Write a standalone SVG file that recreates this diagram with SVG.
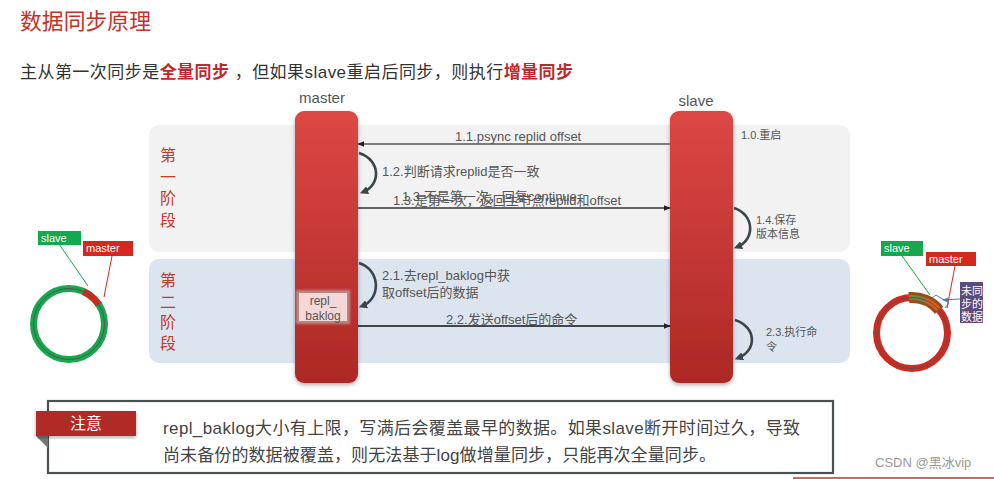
<svg xmlns="http://www.w3.org/2000/svg" width="994" height="479" viewBox="0 0 994 479">
<defs>
<style>
text{font-family:"Liberation Sans","Noto Sans CJK SC",sans-serif;}
.lbl{font-size:13px;fill:#555;}
.sm{font-size:11px;fill:#555;}
.phase{font-size:16px;fill:#c0392b;text-anchor:middle;}
.bar{fill:url(#barGrad);filter:url(#shadow);}
.curve{fill:none;stroke:#3b4649;stroke-width:2.6;marker-end:url(#curveHead);}
.line{stroke-width:1.4;fill:none;}
.tag{font-size:11px;fill:#fff;}
.note{font-size:17px;fill:#444;}
</style>
<linearGradient id="barGrad" x1="0" y1="0" x2="0" y2="1">
<stop offset="0" stop-color="#dc4744"/>
<stop offset="1" stop-color="#ad2826"/>
</linearGradient>
<filter id="shadow" x="-30%" y="-10%" width="160%" height="120%">
<feDropShadow dx="0" dy="2" stdDeviation="2" flood-color="#000" flood-opacity="0.3"/>
</filter>
<filter id="glow" x="-20%" y="-20%" width="140%" height="140%">
<feGaussianBlur stdDeviation="1.2"/>
</filter>
<marker id="curveHead" viewBox="0 0 10 10" refX="6" refY="5" markerWidth="3.2" markerHeight="3.2" orient="auto" markerUnits="strokeWidth">
<path d="M0,0 L10,5 L0,10 z" fill="#3b4649"/>
</marker>
<marker id="head" viewBox="0 0 10 10" refX="9" refY="5" markerWidth="7" markerHeight="7" orient="auto" markerUnits="userSpaceOnUse">
<path d="M0,1 L10,5 L0,9 z" fill="#222"/>
</marker>
<marker id="blueHead" viewBox="0 0 10 10" refX="9" refY="5" markerWidth="6" markerHeight="6" orient="auto" markerUnits="userSpaceOnUse">
<path d="M0,1 L10,5 L0,9 z" fill="#4a7fc1"/>
</marker>
</defs>
<rect x="0" y="0" width="994" height="479" fill="#fff"/>

<g id="title">
<text x="20" y="29" font-size="22" fill="#c9302c" textLength="131" lengthAdjust="spacingAndGlyphs">数据同步原理</text>
</g>
<g id="subtitle">
<text x="20" y="78" font-size="17" fill="#333" textLength="553" lengthAdjust="spacing">主从第一次同步是<tspan fill="#c0282d" font-weight="bold">全量同步</tspan> ，但如果slave重启后同步，则执行<tspan fill="#c0282d" font-weight="bold">增量同步</tspan></text>
</g>

<g id="phase1">
<rect x="149" y="125" width="701" height="127" rx="10" fill="#f2f2f2"/>
<text class="phase" x="168" y="161">第</text>
<text class="phase" x="168" y="183">一</text>
<text class="phase" x="168" y="204">阶</text>
<text class="phase" x="168" y="226">段</text>
</g>
<g id="phase2">
<rect x="149" y="259" width="701" height="104" rx="10" fill="#dce4ef"/>
<text class="phase" x="168" y="286">第</text>
<text class="phase" x="168" y="308">二</text>
<text class="phase" x="168" y="328">阶</text>
<text class="phase" x="168" y="349">段</text>
</g>

<g id="master">
<text x="322" y="103" font-size="15" fill="#555" text-anchor="middle">master</text>
<rect class="bar" x="295" y="111" width="63" height="272" rx="9"/>
</g>
<g id="slave">
<text x="696" y="106" font-size="15" fill="#555" text-anchor="middle">slave</text>
<rect class="bar" x="670" y="111" width="63" height="272" rx="9"/>
</g>

<g id="repl_baklog">
<rect x="296" y="290" width="54" height="34" fill="#b98784" filter="url(#glow)"/>
<rect x="299" y="293" width="48" height="28" fill="#f4d8d7"/>
<text x="323" y="305" font-size="12" fill="#555" text-anchor="middle">repl_</text>
<text x="323" y="320" font-size="12" fill="#555" text-anchor="middle">baklog</text>
</g>

<g id="connectors">
<line class="line" x1="670" y1="144" x2="358" y2="144" stroke="#555" marker-end="url(#head)"/>
<path class="curve" d="M359,153 C381,160 381,185 363,192"/>
<line class="line" x1="358" y1="208" x2="670" y2="208" stroke="#333" marker-end="url(#head)"/>
<path class="curve" d="M734,208 C755,215 755,240 737,247"/>
<path class="curve" d="M359,263 C381,270 381,299 362,306"/>
<line class="line" x1="358" y1="326" x2="670" y2="326" stroke="#111" marker-end="url(#head)"/>
<path class="curve" d="M735,320 C757,327 757,351 738,358"/>
</g>

<g id="labels">
<text class="lbl" x="455" y="141">1.1.psync replid offset</text>
<text class="sm" x="741" y="139">1.0.重启</text>
<text class="lbl" x="382" y="176">1.2.判断请求replid是否一致</text>
<text class="lbl" x="402" y="201" fill="#666">1.3.不是第一次，回复continue</text>
<text class="lbl" x="393" y="205">1.3.是第一次，返回主节点replid和offset</text>
<text class="sm" x="756" y="224">1.4.保存</text>
<text class="sm" x="756" y="238">版本信息</text>
<text class="lbl" x="382" y="280">2.1.去repl_baklog中获</text>
<text class="lbl" x="382" y="297">取offset后的数据</text>
<text class="lbl" x="446" y="324">2.2.发送offset后的命令</text>
<text class="sm" x="766" y="336">2.3.执行命</text>
<text class="sm" x="766" y="351">令</text>
</g>

<g id="ring-left">
<circle cx="69" cy="324" r="35.5" fill="none" stroke="#15a84c" stroke-width="7"/>
<path d="M83.4,291.6 A35.5,35.5 0 0 1 98.8,304.7" fill="none" stroke="#d3281e" stroke-width="7"/>
<circle cx="69" cy="324" r="35.5" fill="none" stroke="#555" stroke-width="1"/>
<line x1="59" y1="244" x2="88" y2="286" stroke="#15a84c" stroke-width="1"/>
<line x1="112" y1="256" x2="104" y2="297" stroke="#d3281e" stroke-width="1"/>
<rect x="38" y="231" width="43" height="14" fill="#15a84c"/>
<text class="tag" x="41" y="242">slave</text>
<rect x="83" y="241" width="50" height="15" fill="#d3281e"/>
<text class="tag" x="86" y="252">master</text>
</g>

<g id="ring-right">
<circle cx="912" cy="333" r="35.5" fill="none" stroke="#d3281e" stroke-width="7"/>
<path d="M908.9,297.6 A35.5,35.5 0 0 1 939.2,310.2" fill="none" stroke="#9c4a1c" stroke-width="11"/>
<path d="M908.9,297.6 A35.5,35.5 0 0 1 925.3,300.1" fill="none" stroke="#6b8a3a" stroke-width="5"/>
<path d="M925.3,300.1 A35.5,35.5 0 0 1 938.4,309.2" fill="none" stroke="#d9601c" stroke-width="5"/>
<circle cx="912" cy="333" r="35.5" fill="none" stroke="#555" stroke-width="1"/>
<line x1="902" y1="256" x2="930" y2="295" stroke="#15a84c" stroke-width="1"/>
<line x1="955" y1="266" x2="947" y2="308" stroke="#d3281e" stroke-width="1"/>
<polyline points="932,298 936,295 949,303 945,308" fill="none" stroke="#4a7fc1" stroke-width="1"/>
<line x1="960" y1="299" x2="943" y2="300" stroke="#4a7fc1" stroke-width="1.2" marker-end="url(#blueHead)"/>
<rect x="881" y="241" width="42" height="15" fill="#15a84c"/>
<text class="tag" x="884" y="252">slave</text>
<rect x="926" y="252" width="50" height="14" fill="#d3281e"/>
<text class="tag" x="929" y="263">master</text>
<rect x="960" y="282" width="23" height="41" fill="#5e4b7e"/>
<text class="tag" x="961" y="295">未同</text>
<text class="tag" x="961" y="308">步的</text>
<text class="tag" x="961" y="321">数据</text>
</g>

<g id="note">
<rect x="48" y="401" width="785" height="72" fill="#fff" stroke="#4a4f52" stroke-width="2.2"/>
<polygon points="36,436 48,436 48,448" fill="#777"/>
<rect x="36" y="411" width="100" height="25" fill="#b22a27" filter="url(#shadow)"/>
<text x="86" y="429" font-size="16" fill="#fff" text-anchor="middle">注意</text>
<text class="note" x="163" y="434" textLength="637" lengthAdjust="spacing">repl_baklog大小有上限，写满后会覆盖最早的数据。如果slave断开时间过久，导致</text>
<text class="note" x="163" y="461" textLength="553" lengthAdjust="spacing">尚未备份的数据被覆盖，则无法基于log做增量同步，只能再次全量同步。</text>
</g>

<g id="watermark">
<text x="875" y="467" font-size="13" fill="#999">CSDN @黑冰vip</text>
<line x1="793" y1="478" x2="994" y2="478" stroke="#c9302c" stroke-width="1.5"/>
</g>
</svg>
